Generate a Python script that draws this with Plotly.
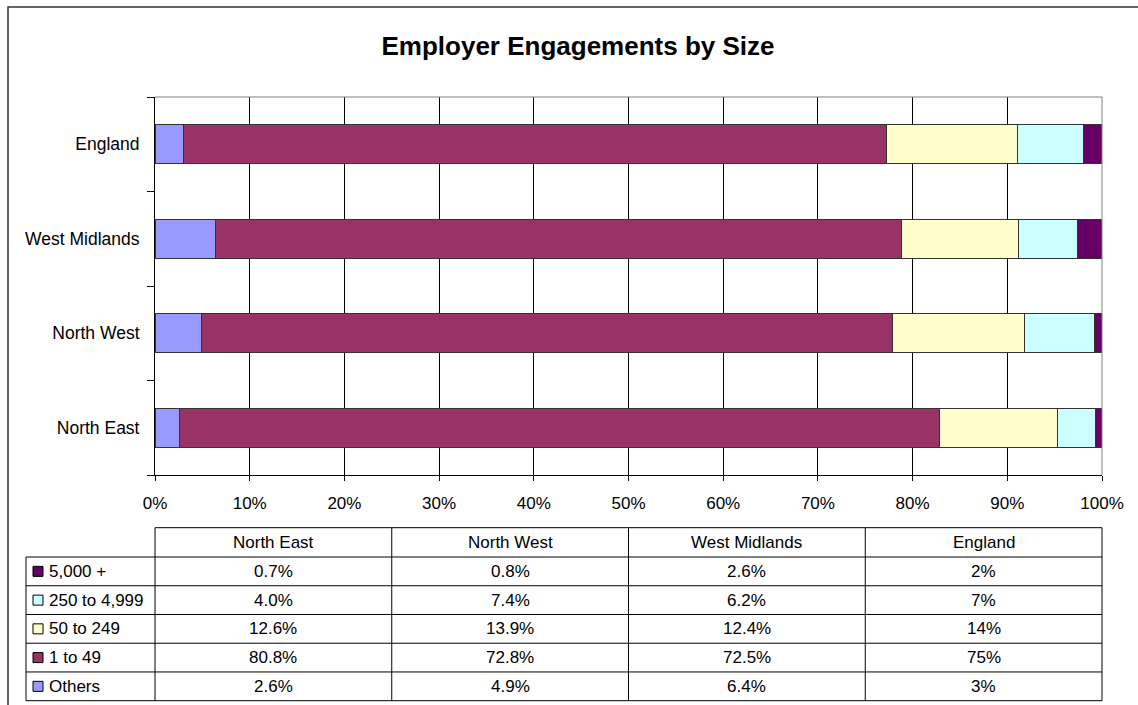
import plotly.graph_objects as go

# Regions (bottom to top on the chart) and employer-size bands
regions = ["North East", "North West", "West Midlands", "England"]
bands = ["Others", "1 to 49", "50 to 249", "250 to 4,999", "5,000 +"]

# Share of engagements by employer size (%), per region
others = [2.6, 4.9, 6.4, 3]
size_1_49 = [80.8, 72.8, 72.5, 75]
size_50_249 = [12.6, 13.9, 12.4, 14]
size_250_4999 = [4.0, 7.4, 6.2, 7]
size_5000_plus = [0.7, 0.8, 2.6, 2]

# Decimal places shown in the data table for each region
decimals = [1, 1, 1, 0]

colors = ["#9999FF", "#993366", "#FFFFCC", "#CCFFFF", "#660066"]
series = [others, size_1_49, size_50_249, size_250_4999, size_5000_plus]

W, H = 1138, 705
L, R, T, B = 155, 1102, 97, 475
FONT = "Arial, Liberation Sans, sans-serif"


def px(x):
    return (x - L) / (R - L)


def py(y):
    return (B - y) / (B - T)


fig = go.Figure()
for name, vals, col in zip(bands, series, colors):
    fig.add_trace(go.Bar(
        y=regions, x=vals, name=name, orientation="h",
        marker=dict(color=col, line=dict(color="#333333", width=1)),
        showlegend=False,
    ))

fig.update_layout(
    width=W, height=H, autosize=False,
    margin=dict(l=L, r=W - R, t=T, b=H - B, pad=0),
    barmode="stack", barnorm="percent", bargap=0.59,
    paper_bgcolor="white", plot_bgcolor="white",
    font=dict(family=FONT, size=17, color="black"),
    title=dict(
        text="<b>Employer Engagements by Size</b>",
        font=dict(family=FONT, size=26, color="black"),
        xref="container", yref="container",
        x=578 / W, xanchor="center", y=1 - 46 / H, yanchor="middle",
    ),
)

fig.update_xaxes(
    range=[0, 100], dtick=10, ticksuffix="%",
    showgrid=True, gridcolor="black", gridwidth=1,
    showline=True, linecolor="black", linewidth=1,
    ticks="outside", ticklen=5, tickcolor="black",
    ticklabelstandoff=8, zeroline=False, fixedrange=True,
)
fig.update_yaxes(
    showgrid=False, showline=True, linecolor="black", linewidth=1,
    ticks="outside", ticklen=7, tickcolor="black", tickson="boundaries",
    ticklabelstandoff=11, tickfont=dict(size=17.5), fixedrange=True,
)

shapes = []
annotations = []

# Plot-area frame (top and right edges)
shapes.append(dict(type="line", xref="paper", yref="paper", x0=0, x1=1, y0=1, y1=1,
                   line=dict(color="#808080", width=1), layer="above"))
shapes.append(dict(type="line", xref="paper", yref="paper", x0=1, x1=1, y0=0, y1=1,
                   line=dict(color="#808080", width=1), layer="above"))

# Outer chart border
shapes.append(dict(type="rect", xref="paper", yref="paper",
                   x0=px(8), x1=px(W + 10), y0=py(7), y1=py(H + 10),
                   line=dict(color="#333333", width=1.5), layer="above"))

# Data table below the chart
n_cols = len(regions)
head_top, head_bot = 527.7, 557.0
row_h = (700.7 - head_bot) / len(bands)
leg_left = 26
col_edges = [L + (R - L) * k / n_cols for k in range(n_cols + 1)]
line_style = dict(color="black", width=1)

shapes.append(dict(type="line", xref="paper", yref="paper",
                   x0=0, x1=1, y0=py(head_top), y1=py(head_top), line=line_style))
for r in range(len(bands) + 1):
    yy = head_bot + r * row_h
    shapes.append(dict(type="line", xref="paper", yref="paper",
                       x0=px(leg_left), x1=1, y0=py(yy), y1=py(yy), line=line_style))
shapes.append(dict(type="line", xref="paper", yref="paper",
                   x0=px(leg_left), x1=px(leg_left), y0=py(head_bot),
                   y1=py(head_bot + len(bands) * row_h), line=line_style))
for xe in col_edges:
    shapes.append(dict(type="line", xref="paper", yref="paper",
                       x0=px(xe), x1=px(xe), y0=py(head_top),
                       y1=py(head_bot + len(bands) * row_h), line=line_style))

# Column headers
for c, reg in enumerate(regions):
    annotations.append(dict(
        xref="paper", yref="paper",
        x=px((col_edges[c] + col_edges[c + 1]) / 2), y=py((head_top + head_bot) / 2),
        text=reg, showarrow=False, xanchor="center", yanchor="middle",
        font=dict(family=FONT, size=17, color="black"),
    ))

# Rows: largest band on top, with legend keys in the first column
table_rows = list(zip(bands, series, colors))[::-1]
for r, (name, vals, col) in enumerate(table_rows):
    yc = head_bot + (r + 0.5) * row_h
    shapes.append(dict(type="rect", xref="paper", yref="paper",
                       x0=px(33), x1=px(43), y0=py(yc - 5), y1=py(yc + 5),
                       fillcolor=col, line=dict(color="black", width=1)))
    annotations.append(dict(
        xref="paper", yref="paper", x=px(47), y=py(yc),
        text=name, showarrow=False, xanchor="left", yanchor="middle",
        font=dict(family=FONT, size=17, color="black"),
    ))
    for c, v in enumerate(vals):
        annotations.append(dict(
            xref="paper", yref="paper",
            x=px((col_edges[c] + col_edges[c + 1]) / 2), y=py(yc),
            text=f"{v:.{decimals[c]}f}%", showarrow=False,
            xanchor="center", yanchor="middle",
            font=dict(family=FONT, size=17, color="black"),
        ))

fig.update_layout(shapes=shapes, annotations=annotations)

fig.write_html("out.html")
